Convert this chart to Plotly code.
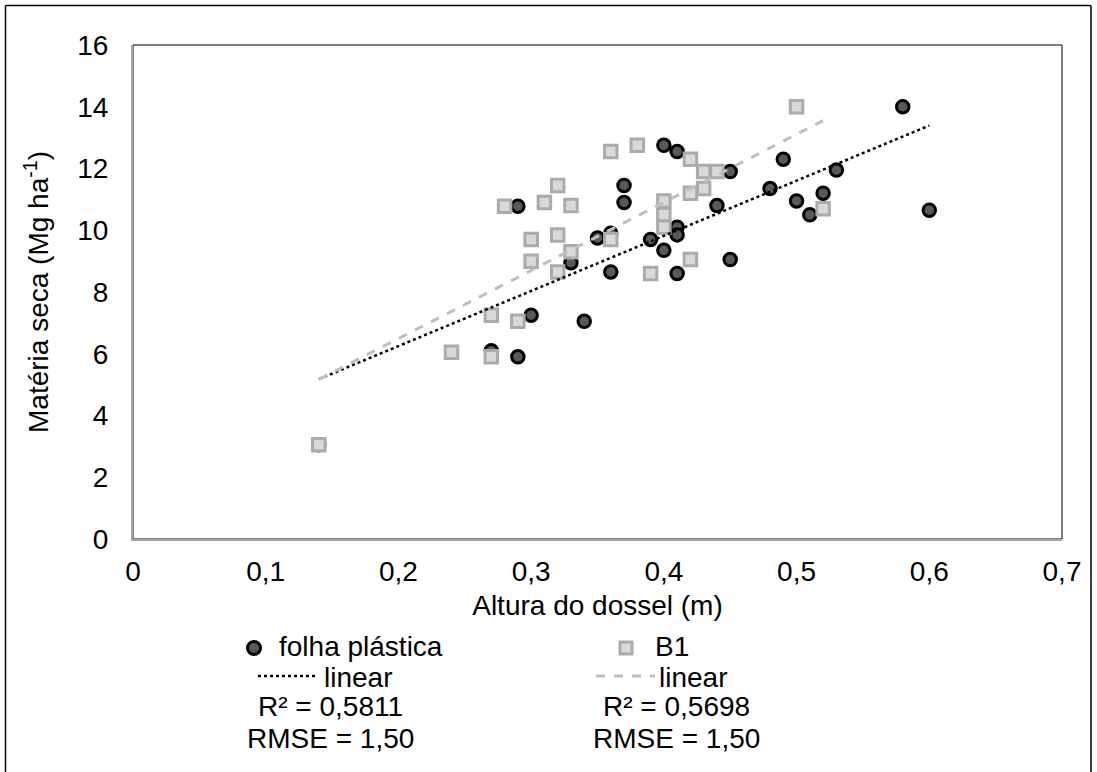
import numpy as np
import plotly.graph_objects as go

# ---- data ----
fp_x = [0.14, 0.27, 0.29, 0.29, 0.30, 0.33, 0.34, 0.35, 0.36, 0.36, 0.37, 0.37, 0.39, 0.40, 0.40,
        0.41, 0.41, 0.41, 0.41, 0.44, 0.45, 0.45, 0.48, 0.49, 0.50, 0.51, 0.52, 0.53, 0.58, 0.60]
fp_y = [3.05, 6.10, 5.90, 10.78, 7.25, 8.95, 7.05, 9.75, 9.90, 8.65, 11.45, 10.90, 9.70, 12.75, 9.35,
        12.55, 10.10, 9.85, 8.60, 10.80, 11.90, 9.05, 11.35, 12.30, 10.95, 10.50, 11.20, 11.95, 14.00, 10.65]

b1_x = [0.14, 0.24, 0.27, 0.27, 0.28, 0.29, 0.30, 0.30, 0.31, 0.32, 0.32, 0.32, 0.33, 0.33, 0.36,
        0.36, 0.38, 0.39, 0.40, 0.40, 0.40, 0.42, 0.42, 0.42, 0.43, 0.43, 0.44, 0.50, 0.52]
b1_y = [3.05, 6.05, 7.25, 5.90, 10.78, 7.05, 9.70, 9.00, 10.90, 11.45, 9.85, 8.65, 10.80, 9.30, 12.55,
        9.70, 12.75, 8.60, 10.95, 10.50, 10.10, 12.30, 11.20, 9.05, 11.90, 11.35, 11.90, 14.00, 10.70]

series_names = ["folha plástica", "B1"]
trend_name = "linear"
stats_text = [["R² = 0,5811", "RMSE = 1,50"], ["R² = 0,5698", "RMSE = 1,50"]]
x_ticks = [0, 0.1, 0.2, 0.3, 0.4, 0.5, 0.6, 0.7]
y_ticks = [0, 2, 4, 6, 8, 10, 12, 14, 16]

FONT = "Arial, 'Liberation Sans', sans-serif"
FS = 28

def trend(xs, ys):
    xs = np.asarray(xs); ys = np.asarray(ys)
    m, b = np.polyfit(xs, ys, 1)
    tx = np.array([xs.min(), xs.max()])
    return tx, m * tx + b

fig = go.Figure()

circle_marker = dict(symbol="circle", size=12.5, color="#595959", line=dict(color="#000000", width=3))
square_marker = dict(symbol="square", size=12.5, color="#d9d9d9", line=dict(color="#aeaaaa", width=3))

fig.add_trace(go.Scatter(x=fp_x, y=fp_y, mode="markers", name=series_names[0], marker=circle_marker))
fig.add_trace(go.Scatter(x=b1_x, y=b1_y, mode="markers", name=series_names[1], marker=square_marker))

tx, ty = trend(fp_x, fp_y)
fig.add_trace(go.Scatter(x=tx, y=ty, mode="lines", name=trend_name,
                         line=dict(color="#000000", width=2.5, dash="dot")))
tx2, ty2 = trend(b1_x, b1_y)
fig.add_trace(go.Scatter(x=tx2, y=ty2, mode="lines", name=trend_name,
                         line=dict(color="#bfbfbf", width=3, dash="dash")))

W, H = 1097, 772
L, R, T, B = 133, 35, 45, 233
pw, ph = W - L - R, H - T - B

def px(xp):
    return (xp - L) / pw

def py(yp):
    return (H - B - yp) / ph

txt_font = dict(family=FONT, size=FS, color="#000000")

ann = []
# legend texts
for label, xl, yc in [(series_names[0], 277, 646), (trend_name, 322, 677),
                      (series_names[1], 653, 646), (trend_name, 657, 677)]:
    ann.append(dict(text=label, xref="paper", yref="paper", x=px(xl), y=py(yc),
                    showarrow=False, xanchor="left", yanchor="middle", font=txt_font))
# statistics
for i, xc in enumerate([330, 676]):
    for j, yc in enumerate([706, 738]):
        ann.append(dict(text=stats_text[i][j], xref="paper", yref="paper",
                        x=px(xc), y=py(yc), showarrow=False, xanchor="center", yanchor="middle",
                        font=txt_font))

shapes = [
    # plot area frame
    dict(type="rect", xref="paper", yref="paper", x0=0, x1=1, y0=0, y1=1,
         line=dict(color="#000000", width=1), layer="below"),
    # chart area frame
    dict(type="line", xref="paper", yref="paper", x0=px(5.5), x1=px(5.5), y0=py(5.5), y1=py(780),
         line=dict(color="#000000", width=1.5)),
    dict(type="line", xref="paper", yref="paper", x0=px(5.5), x1=px(1091), y0=py(5.5), y1=py(5.5),
         line=dict(color="#000000", width=1.5)),
    dict(type="line", xref="paper", yref="paper", x0=px(1091), x1=px(1091), y0=py(5.5), y1=py(780),
         line=dict(color="#000000", width=1.5)),
    # legend glyphs
    dict(type="circle", xref="paper", yref="paper", x0=px(247.5), x1=px(260.5), y0=py(654.5), y1=py(641.5),
         fillcolor="#595959", line=dict(color="#000000", width=3)),
    dict(type="rect", xref="paper", yref="paper", x0=px(620), x1=px(632), y0=py(654), y1=py(642),
         fillcolor="#d9d9d9", line=dict(color="#aeaaaa", width=3)),
    dict(type="line", xref="paper", yref="paper", x0=px(258), x1=px(318), y0=py(676), y1=py(676),
         line=dict(color="#000000", width=2.5, dash="dot")),
    dict(type="line", xref="paper", yref="paper", x0=px(596), x1=px(655), y0=py(676), y1=py(676),
         line=dict(color="#bfbfbf", width=3, dash="dash")),
]

fig.update_layout(
    width=W, height=H,
    margin=dict(l=L, r=R, t=T, b=B, autoexpand=False),
    paper_bgcolor="white", plot_bgcolor="white",
    separators=",.",
    font=txt_font,
    showlegend=False,
    annotations=ann,
    shapes=shapes,
)

fig.update_xaxes(range=[0, 0.7], tickvals=x_ticks, showgrid=False, zeroline=False,
                 showline=True, linecolor="#a6a6a6", linewidth=2, ticks="",
                 ticklabelstandoff=6,
                 tickfont=txt_font,
                 title=dict(text="Altura do dossel (m)", standoff=10, font=txt_font))
fig.update_yaxes(range=[0, 16], tickvals=y_ticks, showgrid=False, zeroline=False,
                 showline=True, linecolor="#a6a6a6", linewidth=2, ticks="",
                 ticklabelstandoff=17,
                 tickfont=txt_font,
                 title=dict(text="Matéria seca (Mg ha<sup>-1</sup>)", standoff=20, font=txt_font))

fig.write_html("out.html", config={"displayModeBar": False},
               post_script="document.body.style.margin='0';document.body.style.overflow='hidden';")
